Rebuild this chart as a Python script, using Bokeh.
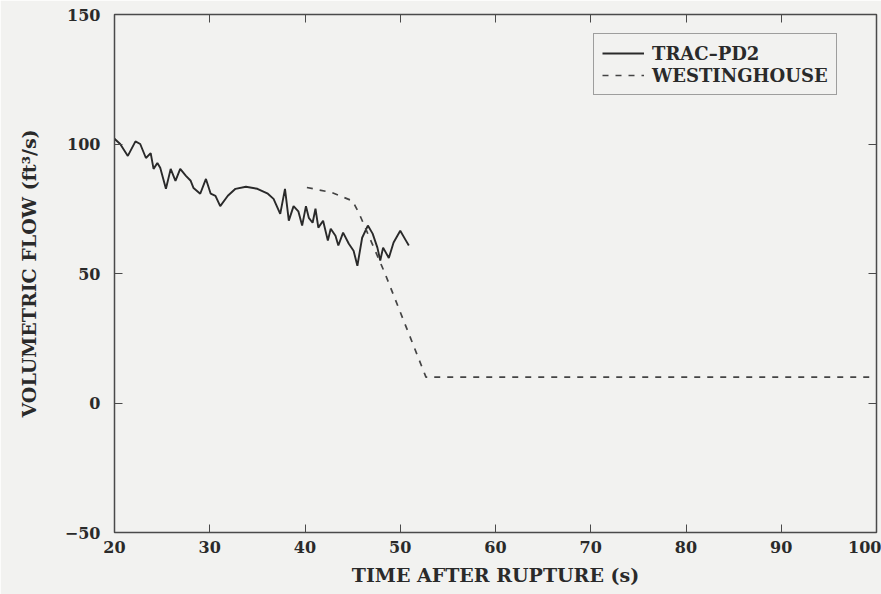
from bokeh.plotting import figure
from bokeh.models import Range1d, LinearAxis, FixedTicker, Legend, LegendItem, CustomJSTickFormatter
from bokeh.embed import file_html
from bokeh.resources import INLINE

# TRAC-PD2 calculation
trac_t = [20.0, 20.6, 21.4, 22.2, 22.7, 23.3, 23.8, 24.1, 24.5, 24.8, 25.4, 25.9,
          26.4, 26.9, 27.5, 28.0, 28.3, 29.0, 29.6, 30.1, 30.6, 31.1, 31.9, 32.7,
          33.8, 35.0, 36.1, 36.7, 37.4, 37.9, 38.3, 38.8, 39.3, 39.7, 40.1, 40.4,
          40.8, 41.1, 41.4, 41.9, 42.4, 42.7, 43.2, 43.5, 44.0, 44.6, 45.1, 45.5,
          46.0, 46.6, 47.1, 47.6, 47.9, 48.2, 48.8, 49.3, 50.0, 50.6, 50.9]
trac_q = [102, 100, 95.4, 101, 100, 94.6, 96.5, 90.4, 92.7, 90.8, 82.7, 90.4,
          85.8, 90.4, 87.7, 85.8, 83, 80.8, 86.5, 80.8, 80, 76, 80, 82.7,
          83.5, 82.7, 80.8, 78.8, 73, 82.7, 70.4, 76, 74, 68.5, 76, 71.5,
          69.6, 75, 67.7, 70.4, 62.7, 67.3, 64.6, 60.8, 65.8, 61.5, 58.8, 53,
          63.8, 68.5, 65.4, 60, 55, 60, 56, 62, 66.5, 62.7, 60.8]

# Westinghouse calculation
west_t = [40.2, 42.8, 45.0, 45.7, 48.4, 52.7, 100.0]
west_q = [83.2, 81.3, 78.0, 73.0, 50.0, 10.0, 10.0]

x_ticks = [20, 30, 40, 50, 60, 70, 80, 90, 100]
y_ticks = [-50, 0, 50, 100, 150]

FONT = "DejaVu Serif"
BG = "#f2f2f0"
INK = "#2a2a2a"
FRAME = "#4a4a4a"

p = figure(width=881, height=594, x_range=Range1d(20, 100), y_range=Range1d(-50, 150),
           output_backend="svg", toolbar_location=None,
           min_border_left=114, min_border_right=5, min_border_top=14, min_border_bottom=62,
           background_fill_color=BG, border_fill_color=BG)
p.xgrid.visible = False
p.ygrid.visible = False
p.outline_line_color = FRAME
p.outline_line_width = 1.5

r1 = p.line(trac_t, trac_q, line_color=INK, line_width=1.9)
r2 = p.line(west_t, west_q, line_color="#444444", line_width=1.7, line_dash="6 7")

for ax in (p.xaxis[0], p.yaxis[0]):
    ax.major_tick_in = 8
    ax.major_tick_out = 0
    ax.minor_tick_line_color = None
    ax.axis_line_color = FRAME
    ax.major_tick_line_color = FRAME
    ax.major_label_text_font = FONT
    ax.major_label_text_font_size = "16px"
    ax.major_label_text_font_style = "bold"
    ax.major_label_text_color = INK
    ax.axis_label_text_font = FONT
    ax.axis_label_text_font_size = "19px"
    ax.axis_label_text_font_style = "bold"
    ax.axis_label_text_color = INK

p.xaxis[0].ticker = FixedTicker(ticks=x_ticks)
p.yaxis[0].ticker = FixedTicker(ticks=y_ticks)
p.xaxis[0].axis_label = "TIME AFTER RUPTURE (s)"
p.yaxis[0].axis_label = "VOLUMETRIC FLOW (ft\u00b3/s)"
p.xaxis[0].major_label_standoff = 8
p.yaxis[0].major_label_standoff = 14
p.xaxis[0].axis_label_standoff = 8
p.yaxis[0].axis_label_standoff = 22

for loc, ticks in (("right", y_ticks), ("above", x_ticks)):
    ax = LinearAxis(ticker=FixedTicker(ticks=ticks),
                    formatter=CustomJSTickFormatter(code="return ''"))
    ax.major_tick_in = 8
    ax.major_tick_out = 0
    ax.minor_tick_line_color = None
    ax.major_label_standoff = 0
    ax.axis_line_color = FRAME
    ax.major_tick_line_color = FRAME
    p.add_layout(ax, loc)

legend = Legend(items=[LegendItem(label="TRAC\u2013PD2", renderers=[r1]),
                       LegendItem(label="WESTINGHOUSE", renderers=[r2])],
                location=(479, 437))
legend.label_text_font = FONT
legend.label_text_font_size = "18px"
legend.label_text_font_style = "bold"
legend.label_text_color = INK
legend.glyph_width = 42
legend.label_standoff = 8
legend.spacing = 0
legend.label_height = 22
legend.padding = 8
legend.border_line_color = FRAME
legend.border_line_width = 1.2
legend.background_fill_color = BG
legend.background_fill_alpha = 1
p.add_layout(legend)

open("out.html", "w").write(file_html(p, INLINE))
